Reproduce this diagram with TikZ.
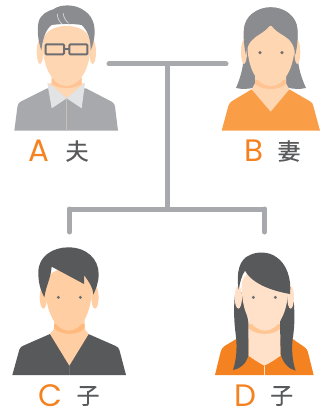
\documentclass[tikz,border=0pt]{standalone}
\usepackage{fontspec}
\setmainfont{Poppins}
\newfontfamily\cjk[FakeBold=0.5]{Noto Sans CJK JP}
\definecolor{orangeL}{HTML}{F58220}
\definecolor{orangeS}{HTML}{F99D46}
\definecolor{darkT}{HTML}{58595B}
\definecolor{conn}{HTML}{A7A9AC}
\definecolor{hairG}{HTML}{8A8C8F}
\definecolor{frame}{HTML}{6D6E71}
\definecolor{collar}{HTML}{E1E3E5}
\definecolor{seam}{HTML}{C8C0B6}
\definecolor{strand}{HTML}{CDCED0}
\definecolor{skinA}{HTML}{FFD6B2}
\definecolor{shadeA}{HTML}{FFC494}
\definecolor{skinC}{HTML}{FFCFA3}
\definecolor{shadeC}{HTML}{FFB97D}
\definecolor{skinD}{HTML}{FFE0C8}
\definecolor{shadeD}{HTML}{FFC592}
\begin{document}
\begin{tikzpicture}[x=1pt,y=-1pt,
  letter/.style={text=orangeL,font=\fontsize{31}{31}\selectfont,inner sep=0pt},
  kanji/.style={text=darkT,font=\cjk\fontsize{23}{23}\selectfont,inner sep=0pt},
  link/.style={draw=conn,line width=5pt,line cap=round},
  fig/.style={x=0.33333pt,y=-0.33333pt}]
\useasboundingbox (0,0) rectangle (320,409);
\clip (0,0) rectangle (320,409);
% connectors
\coordinate (cl) at (109,64);
\coordinate (cr) at (226,64);
\coordinate (cm) at (167,64);
\coordinate (bm) at (167,209);
\coordinate (bl) at (69.5,209);
\coordinate (br) at (264.5,209);
\coordinate (dl) at (69.5,232);
\coordinate (dr) at (264.5,232);
\draw[link] (cl) -- (cr);
\draw[link,line cap=butt] (cm) -- (bm);
\draw[link] (bl) -- (br);
\draw[link] (bl) -- (dl);
\draw[link] (br) -- (dr);
% A
\begin{scope}[fig]
\fill[conn] (43,392) -- (52,322) .. controls (53,312) and (56,308) .. (62,305) -- (142,265) -- (258,265) -- (335,305) .. controls (342,309) and (344,314) .. (345,320) -- (354,392) -- cycle;
\fill[skinA] (155,215) -- (245,215) -- (245,250) -- (255,250) -- (200,295) -- (142,250) -- (155,250) -- cycle;
\fill[shadeA] (155,235) -- (245,235) -- (245,252) .. controls (225,268) and (175,268) .. (155,252) -- cycle;
\fill[collar] (142,250) .. controls (150,256) and (155,258) .. (160,260) -- (200,295) -- (155,325) -- cycle;
\fill[collar] (255,250) .. controls (250,256) and (245,258) .. (240,260) -- (200,295) -- (245,325) -- cycle;
\draw[seam,line width=0.7pt] (200,297) -- (200,392);
\fill[skinA] (120,156) ellipse [x radius=10,y radius=36];
\fill[skinA] (278,156) ellipse [x radius=10,y radius=36];
\fill[skinA] (128,130) .. controls (128,205) and (160,258) .. (200,258) .. controls (240,258) and (272,205) .. (272,130) .. controls (272,60) and (128,60) .. (128,130) -- cycle;
\fill[hairG] (124,152) .. controls (114,120) and (110,90) .. (116,65) .. controls (122,42) and (145,32) .. (160,28) .. controls (180,12) and (225,12) .. (250,30) .. controls (275,45) and (285,70) .. (284,100) .. controls (283,120) and (278,138) .. (272,152) .. controls (272,120) and (266,95) .. (245,75) .. controls (215,70) and (175,72) .. (155,75) .. controls (135,90) and (128,120) .. (124,152) -- cycle;
\draw[strand,line width=0.8pt] (172,42) .. controls (172,55) and (178,65) .. (186,72);
\draw[strand,line width=0.8pt] (190,40) .. controls (190,50) and (196,62) .. (206,70);
\draw[frame,line width=2pt,rounded corners=1pt] (137,133) rectangle (192,163);
\draw[frame,line width=2pt,rounded corners=1pt] (208,133) rectangle (262,163);
\draw[frame,line width=2pt] (192,146) -- (208,146);
\end{scope}
\node[letter] (la) at (38.5,151) {A};
\node[kanji] (ka) at (77,151) {夫};
% B
\begin{scope}[fig,shift={(213.33pt,0pt)}]
\fill[orangeS] (25,392) -- (45,318) .. controls (47,310) and (52,306) .. (58,302) -- (115,268) -- (228,268) -- (290,304) .. controls (296,308) and (299,312) .. (300,318) -- (320,392) -- cycle;
\fill[hairG] (68,264) .. controls (85,225) and (92,190) .. (92,150) -- (92,90) .. controls (92,50) and (130,22) .. (172,22) .. controls (215,22) and (252,50) .. (252,90) -- (252,150) .. controls (252,190) and (260,225) .. (278,264) .. controls (260,268) and (240,268) .. (220,262) -- (125,262) .. controls (105,268) and (85,268) .. (68,264) -- cycle;
\fill[skinA] (125,225) -- (218,225) -- (218,250) -- (228,268) -- (172,335) -- (115,268) -- (125,250) -- cycle;
\fill[shadeA] (125,240) -- (218,240) -- (218,252) .. controls (200,272) and (145,272) .. (125,252) -- cycle;
\fill[skinA] (92,156) ellipse [x radius=9,y radius=36];
\fill[skinA] (252,156) ellipse [x radius=9,y radius=36];
\fill[skinA] (102,130) .. controls (102,205) and (132,258) .. (172,258) .. controls (212,258) and (244,205) .. (244,130) .. controls (244,60) and (102,60) .. (102,130) -- cycle;
\fill[hairG] (98,165) .. controls (90,130) and (90,100) .. (92,85) .. controls (98,50) and (130,22) .. (172,22) .. controls (215,22) and (248,50) .. (252,85) .. controls (254,100) and (254,130) .. (246,165) .. controls (242,125) and (225,115) .. (200,100) .. controls (185,90) and (175,80) .. (172,72) .. controls (168,82) and (155,92) .. (140,102) .. controls (120,115) and (102,125) .. (98,165) -- cycle;
\fill[frame] (140,158) circle [radius=5];
\fill[frame] (206,158) circle [radius=5];
\end{scope}
\node[letter] (lb) at (254,151) {B};
\node[kanji] (kb) at (289,151) {妻};
% C
\begin{scope}[fig,shift={(0pt,-229pt)}]
\fill[darkT] (37,438) -- (58,362) .. controls (60,355) and (65,352) .. (70,350) -- (150,315) -- (265,315) -- (345,350) .. controls (352,353) and (356,356) .. (358,362) -- (378,438) -- cycle;
\fill[skinC] (162,270) -- (254,270) -- (254,300) -- (266,315) -- (208,410) -- (150,315) -- (162,300) -- cycle;
\fill[shadeC] (162,285) -- (254,285) -- (254,298) .. controls (232,320) and (185,320) .. (162,298) -- cycle;
\draw[frame,line width=0.7pt] (208,410) -- (208,438);
\fill[skinC] (130,205) ellipse [x radius=11,y radius=34];
\fill[skinC] (285,205) ellipse [x radius=11,y radius=34];
\fill[skinC] (136,170) .. controls (136,250) and (168,305) .. (206,305) .. controls (246,305) and (276,250) .. (276,170) .. controls (276,100) and (136,100) .. (136,170) -- cycle;
\fill[darkT] (133,205) .. controls (120,180) and (115,160) .. (115,130) .. controls (115,80) and (160,55) .. (205,55) .. controls (260,55) and (296,90) .. (296,135) .. controls (296,160) and (288,180) .. (280,197) .. controls (280,178) and (268,160) .. (252,138) -- (252,165) -- (155,113) .. controls (152,150) and (138,170) .. (133,205) -- cycle;
\fill[frame] (175,205) circle [radius=5];
\fill[frame] (241,205) circle [radius=5];
\end{scope}
\node[letter] (lc) at (50.7,395.5) {C};
\node[kanji] (kc) at (88,396) {子};
% D
\begin{scope}[fig,shift={(213.33pt,-229pt)}]
\fill[orangeL] (5,438) -- (22,368) .. controls (24,360) and (28,355) .. (34,351) -- (72,328) -- (235,328) -- (273,354) .. controls (279,358) and (282,362) .. (284,370) -- (301,438) -- cycle;
\fill[skinD] (105,250) -- (202,250) -- (202,380) .. controls (185,392) and (170,402) .. (153,410) .. controls (138,402) and (122,392) .. (105,380) -- cycle;
\fill[shadeD] (105,285) -- (202,285) -- (202,298) .. controls (180,320) and (130,320) .. (105,298) -- cycle;
\draw[skinD,line width=0.6pt] (153,410) -- (153,438);
\fill[darkT] (66,190) .. controls (60,230) and (62,280) .. (67,315) .. controls (73,360) and (68,395) .. (59,423) .. controls (80,420) and (98,405) .. (105,380) -- (105,280) -- (90,190) -- cycle;
\fill[darkT] (238,190) .. controls (245,240) and (245,290) .. (238,330) .. controls (234,365) and (238,400) .. (247,425) .. controls (225,420) and (208,400) .. (202,375) -- (200,280) -- (220,190) -- cycle;
\fill[skinD] (75,205) ellipse [x radius=11,y radius=34];
\fill[skinD] (232,205) ellipse [x radius=10,y radius=34];
\fill[skinD] (85,170) .. controls (85,250) and (115,305) .. (155,305) .. controls (195,305) and (225,250) .. (225,170) .. controls (225,100) and (85,100) .. (85,170) -- cycle;
\fill[darkT] (76,182) .. controls (68,130) and (78,90) .. (110,78) .. controls (130,68) and (165,66) .. (190,85) .. controls (220,105) and (235,150) .. (230,195) .. controls (190,188) and (120,170) .. (95,125) .. controls (85,140) and (80,160) .. (76,182) -- cycle;
\fill[frame] (120,205) circle [radius=5];
\fill[frame] (186,205) circle [radius=5];
\end{scope}
\node[letter] (ld) at (245,395.5) {D};
\node[kanji] (kd) at (281.7,396) {子};
\end{tikzpicture}
\end{document}
